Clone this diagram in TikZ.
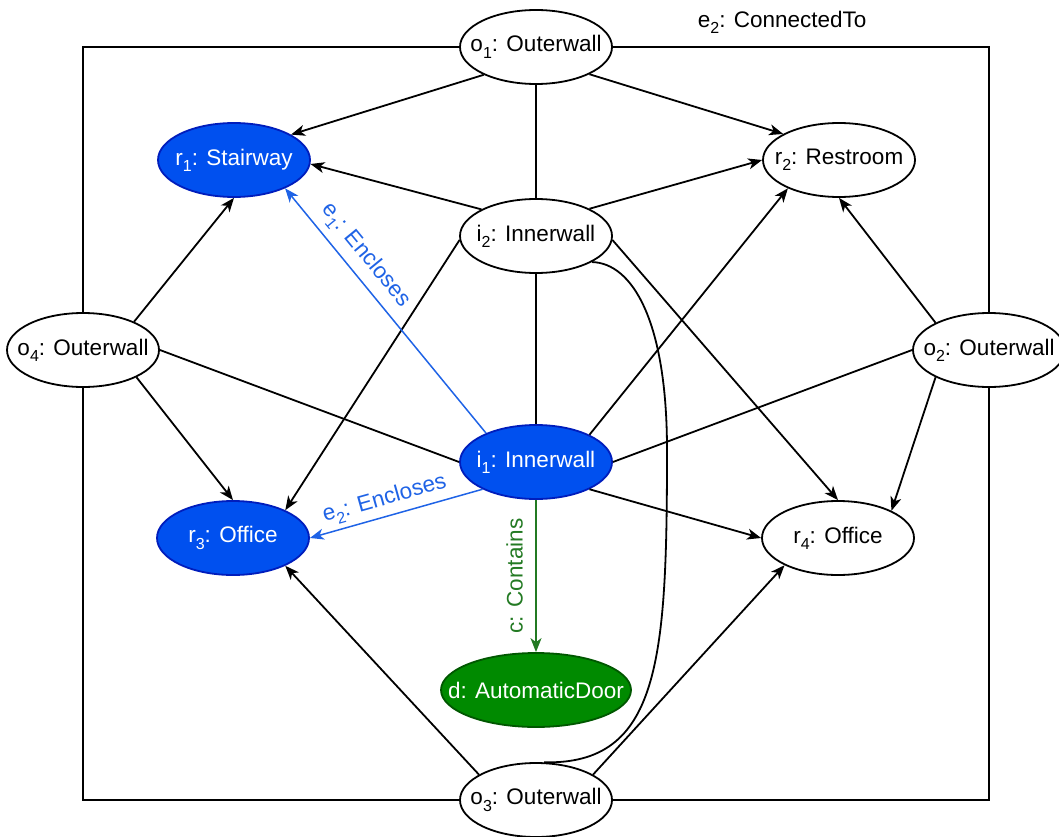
\documentclass[tikz,border=0pt]{standalone}
\usepackage{fontspec}
\setmainfont{Liberation Sans}
\usetikzlibrary{arrows.meta,shapes.geometric}

\definecolor{roomblue}{HTML}{0050EF}
\definecolor{roomblueline}{HTML}{001DBC}
\definecolor{encblue}{HTML}{1F63E6}
\definecolor{doorgreen}{HTML}{008A00}
\definecolor{doorgreenline}{HTML}{005700}
\definecolor{containgreen}{HTML}{237A23}

% lowered index used in the element names
\newcommand{\idx}[1]{\raisebox{-0.28em}{\fontsize{16}{16}\selectfont #1}}
% element name in a zero-width box, so the ellipse keeps its fixed size
\newcommand{\ename}[1]{\makebox[0pt]{#1}}

\begin{document}
\begin{tikzpicture}[x=1pt,y=-1pt,
  every node/.style={font=\fontsize{22.5}{27}\selectfont},
  ent/.style={ellipse, draw, line width=1.8pt, minimum width=152pt,
              minimum height=74pt, inner sep=0pt, fill=white},
  entblue/.style={ent, fill=roomblue, draw=roomblueline, text=white},
  entgreen/.style={ent, fill=doorgreen, draw=doorgreenline,
                   text=white, minimum width=190pt},
  link/.style={line width=1.8pt},
  rel/.style={link, -{Stealth[length=14pt,width=11pt,inset=4pt]}},
  encl/.style={rel, draw=encblue, line width=1.5pt},
  cont/.style={link, draw=containgreen, line width=1.5pt,
               {Stealth[length=14pt,width=11pt,inset=4pt]}-},
  elabel/.style={sloped, inner sep=3.3pt}
]
\useasboundingbox (0,0) rectangle (1059,837);

% elements
\node[ent]      (o1) at (536,47)  {\ename{o\idx{1}: Outerwall}};
\node[entblue]  (r1) at (234,160) {\ename{r\idx{1}: Stairway}};
\node[ent]      (r2) at (839,160) {\ename{r\idx{2}: Restroom}};
\node[ent]      (i2) at (536,236) {\ename{i\idx{2}: Innerwall}};
\node[ent]      (o4) at (83,350)  {\ename{o\idx{4}: Outerwall}};
\node[ent]      (o2) at (989,350) {\ename{o\idx{2}: Outerwall}};
\node[entblue]  (i1) at (536,462) {\ename{i\idx{1}: Innerwall}};
\node[entblue]  (r3) at (233,538) {\ename{r\idx{3}: Office}};
\node[ent]      (r4) at (838,538) {\ename{r\idx{4}: Office}};
\node[entgreen] (d)  at (536,690) {\ename{d: AutomaticDoor}};
\node[ent]      (o3) at (536,800) {\ename{o\idx{3}: Outerwall}};

% outer-wall ring
\draw[link] (o1.west) -| (o4.north);
\draw[link] (o1.east) -| node[pos=0.225, above=9pt] (lblcon) {e\idx{2}: ConnectedTo} (o2.north);
\draw[link] (o4.south) |- (o3.west);
\draw[link] (o3.east) -| (o2.south);

% outer walls
\draw[rel]  (o1.208) -- (r1.24);
\draw[rel]  (o1.-27) -- (r2.155);
\draw[link] (o1.south) -- (i2.north);
\draw[rel]  (o4.29) -- (r1.south);
\draw[rel]  (o4.-27) -- (r3.north);
\draw[link] (o4.east) -- (i1.west);
\draw[rel]  (o2.153) -- (r2.south);
\draw[rel]  (o2.207) -- (r4.27);
\draw[link] (o2.west) -- (i1.east);
\draw[rel]  (o3.156) -- (r3.-28);
\draw[rel]  (o3.24) -- (r4.207);

% inner wall i2
\draw[rel]  (i2.154) -- (r1.-3);
\draw[rel]  (i2.27) -- (r2.west);
\draw[rel]  (i2.183) -- (r3.28);
\draw[rel]  (i2.-3) -- (r4.north);
\draw[link] (i2.south) -- (i1.north);
\draw[link] (i2.-25) .. controls (632,263) and (667,320) .. (667,450)
            .. controls (667,660) and (660,765) .. (o3.78);

% inner wall i1
\draw[encl] (i1.150) -- node[elabel, pos=0.675, above=4pt, text=encblue] (lble1) {e\idx{1}: Encloses} (r1.-29);
\draw[encl] (i1.207) -- node[elabel, pos=0.54, above=1pt, text=encblue] (lble2) {e\idx{2}: Encloses} (r3.east);
\draw[rel]  (i1.27) -- (r2.209);
\draw[rel]  (i1.-27) -- (r4.west);
\draw[cont] (d.north) -- node[elabel, pos=0.5, above=9pt, text=containgreen] (lblc) {c: Contains} (i1.south);
\end{tikzpicture}
\end{document}
